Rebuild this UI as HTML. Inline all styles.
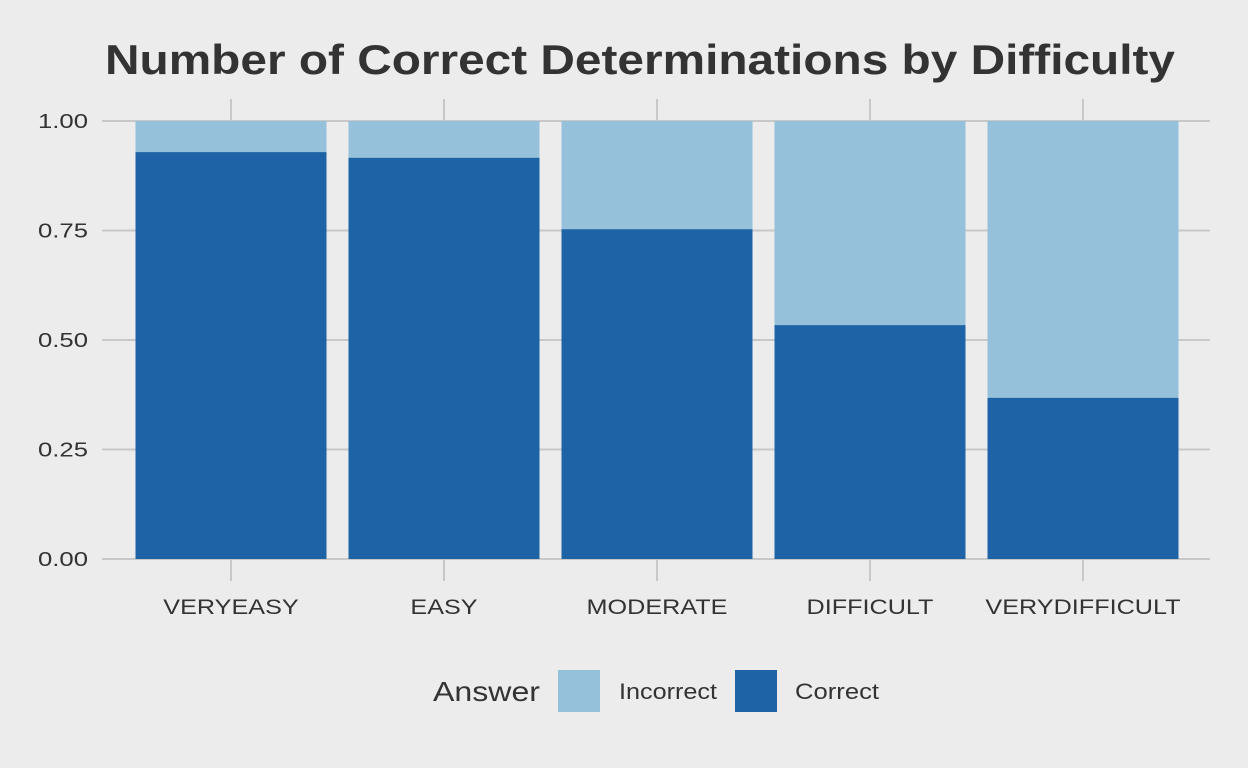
<!DOCTYPE html>
<html><head><meta charset="utf-8"><style>
html,body{margin:0;padding:0;background:#ececec;}
svg{display:block;font-family:"Liberation Sans",Arial,sans-serif;}
</style></head><body>
<svg id="chart" width="1248" height="768" viewBox="0 0 1248 768">
<rect width="1248" height="768" fill="#ececec"/>
<text x="105" y="74" font-size="42" font-weight="bold" fill="#333" textLength="1070" lengthAdjust="spacingAndGlyphs">Number of Correct Determinations by Difficulty</text>
<g id="grid"></g>
<g id="bars"></g>
<g id="axes"></g>
<g>
<text x="433" y="701" font-size="28" fill="#333" textLength="107" lengthAdjust="spacingAndGlyphs">Answer</text>
<rect x="558" y="670" width="42" height="42" fill="#95c1db"/>
<text x="619" y="699" font-size="22" fill="#333" textLength="98" lengthAdjust="spacingAndGlyphs">Incorrect</text>
<rect x="735" y="670" width="42" height="42" fill="#1d63a6"/>
<text x="795" y="699" font-size="22" fill="#333" textLength="84" lengthAdjust="spacingAndGlyphs">Correct</text>
</g>
</svg>
<script>
const categories=["VERYEASY","EASY","MODERATE","DIFFICULT","VERYDIFFICULT"];
const correct=[0.929,0.916,0.753,0.534,0.368];
const yTicks=[0,0.25,0.5,0.75,1];
const yTickLabels=["0.00","0.25","0.50","0.75","1.00"];
const NS="http://www.w3.org/2000/svg";
const x0=124.5,step=213,bw=191,yTop=121,yBot=559,gx1=102,gx2=1210;
const y=v=>yBot-(yBot-yTop)*v;
const xc=i=>x0+step*(i+0.5);
function mk(t,a,p){const e=document.createElementNS(NS,t);for(const k in a)e.setAttribute(k,a[k]);p.appendChild(e);return e;}
const grid=document.getElementById('grid'),bars=document.getElementById('bars'),axes=document.getElementById('axes');
yTicks.forEach((v,i)=>{
 const l=mk('line',{x1:gx1,x2:gx2,y1:y(v),y2:y(v),stroke:'#c8c8c8','stroke-width':2},grid);
 
 
 const t=mk('text',{x:88,y:y(v)+7,'text-anchor':'end','font-size':20,fill:'#333',textLength:50,lengthAdjust:'spacingAndGlyphs'},axes);
 t.textContent=yTickLabels[i];
 
 
});
categories.forEach((c,i)=>{
 const cx=xc(i);
 const tk=mk('line',{x1:cx,x2:cx,y1:99,y2:121,stroke:'#c8c8c8','stroke-width':2},grid);
 
 
 const tb=mk('line',{x1:cx,x2:cx,y1:559,y2:581,stroke:'#c8c8c8','stroke-width':2},grid);
 
 
 const r1=mk('rect',{x:cx-bw/2,y:y(1),width:bw,height:y(correct[i])-y(1),fill:'#95c1db'},bars);
 
 
 const r2=mk('rect',{x:cx-bw/2,y:y(correct[i]),width:bw,height:y(0)-y(correct[i]),fill:'#1d63a6'},bars);
 
 
 const t=mk('text',{x:cx,y:614,'text-anchor':'middle','font-size':21,fill:'#333'},axes);
 t.textContent=c;
 
 
 const w=t.getComputedTextLength();
 t.setAttribute('textLength',(w*1.2).toFixed(1));
 t.setAttribute('lengthAdjust','spacingAndGlyphs');
});
</script>
</body></html>
